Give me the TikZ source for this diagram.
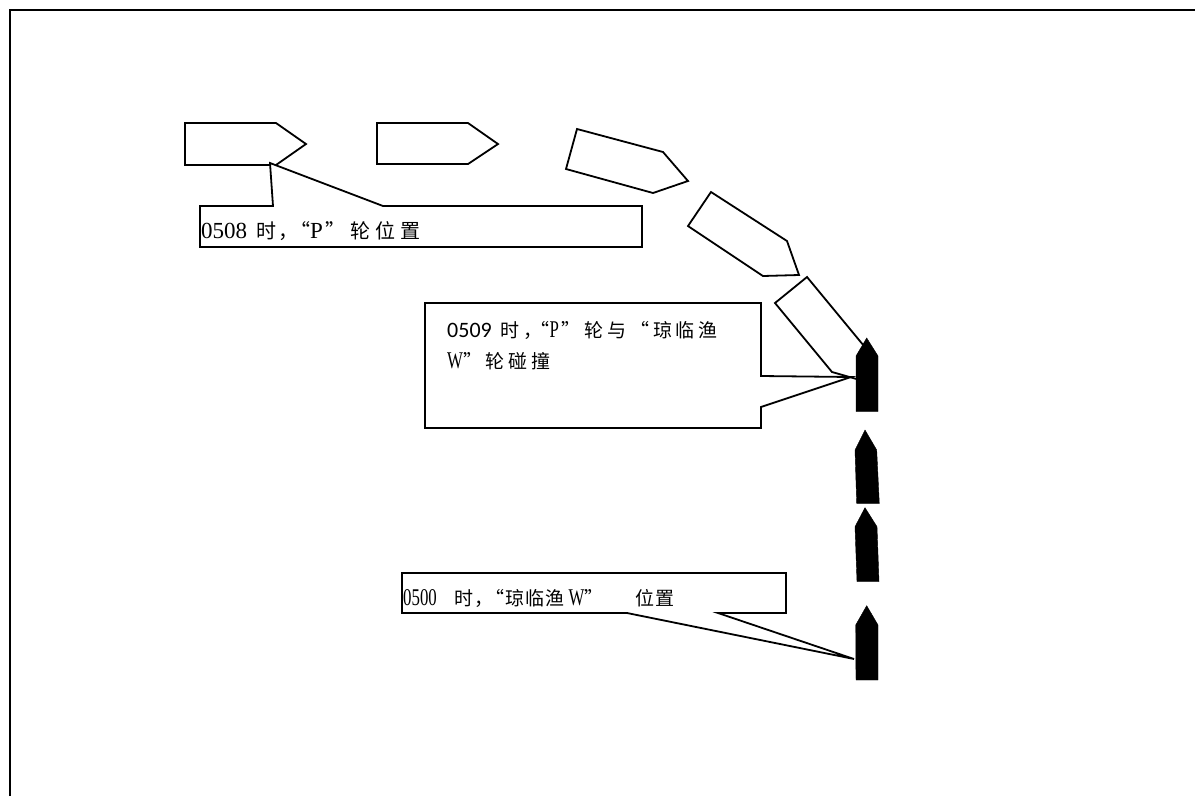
\documentclass[tikz,border=0pt]{standalone}
\usepackage{fontspec}
\setmainfont{Liberation Serif}
\newfontfamily\zhten{Noto Sans CJK SC}[LetterSpace=10]
\newfontfamily\zheight{Noto Sans CJK SC}[LetterSpace=24]
\newfontfamily\zhfive{Noto Sans CJK SC}[LetterSpace=5]
\newfontfamily\zhtwenty{Noto Sans CJK SC}[LetterSpace=20]
\newfontfamily\latnarrow{Liberation Serif}[FakeStretch=0.7]
\newfontfamily\calfont{Carlito}
\tikzset{
  frameline/.style={draw=black, line width=1.9pt},
  whiteship/.style={draw=black, fill=white, line width=1.8pt, line join=miter},
  blackship/.style={fill=black, draw=black, line width=0.4pt},
  callout/.style={draw=black, fill=white, line width=1.8pt, line join=miter},
  lbl/.style={anchor=base west, inner sep=0pt}
}
\begin{document}
\begin{tikzpicture}[x=1pt,y=-1pt]
\useasboundingbox (0,0) rectangle (1195,796);
\draw[frameline] (10,796) -- (10,10) -- (1195,10);

% white ships ("P" track)
\draw[whiteship] (185,123) -- (276,123) -- (306,144) -- (276,165) -- (185,165) -- cycle;
\draw[whiteship] (377,123) -- (468,123) -- (498,144) -- (468,164) -- (377,164) -- cycle;
\draw[whiteship] (577,129) -- (663,152) -- (688,181) -- (653,193) -- (566,169) -- cycle;
\draw[whiteship] (711,192) -- (787,241) -- (799,275) -- (763,276) -- (688,226) -- cycle;
\draw[whiteship] (807,277) -- (864,346) -- (867,382) -- (832,372) -- (775,303) -- cycle;

% callout tips
\coordinate (tipA) at (270,163);
\coordinate (tipB) at (851,377);
\coordinate (tipC) at (854,659);

% callouts
\draw[callout] (200,206) -- (273,206) -- (tipA) -- (383,206) -- (642,206) -- (642,247) -- (200,247) -- cycle;
\draw[callout] (425,303) -- (761,303) -- (761,376) -- (tipB) -- (761,407) -- (761,428) -- (425,428) -- cycle;
\draw[callout] (402,573) -- (786,573) -- (786,613) -- (718,613) -- (tipC) -- (627,613) -- (402,613) -- cycle;

% black ships ("Qiong Lin Yu W" track)
\filldraw[blackship] (866.7,338) -- (878,356) -- (878,411.5) -- (856,411.5) -- (856,356) -- cycle;
\filldraw[blackship] (865,430) -- (876.7,450) -- (879.3,503.3) -- (856.7,503.3) -- (855,450) -- cycle;
\filldraw[blackship] (865,507.7) -- (877,526.7) -- (879,581.7) -- (857,581.7) -- (855,526.7) -- cycle;
\filldraw[blackship] (866.7,605.7) -- (878,625) -- (878,680) -- (856,680) -- (855.7,625) -- cycle;

% labels
\node[lbl] (labA) at (201,238) {{\fontsize{23}{26}\selectfont 0508}\hspace{9pt}{\zhten\fontsize{20}{24}\selectfont 时，}\hspace{-8pt}{\zhten\fontsize{20}{24}\selectfont “}{\fontsize{23}{26}\selectfont P}\hspace{3pt}{\zheight\fontsize{20}{24}\selectfont ”轮位置}};
\node[lbl] (labB1) at (447,337) {{\calfont\fontsize{22}{26}\selectfont 0509}\hspace{9pt}{\zhtwenty\fontsize{19}{23}\selectfont 时，}\hspace{-12pt}{\zhtwenty\fontsize{19}{23}\selectfont “}{\latnarrow\fontsize{24}{26}\selectfont P}\hspace{3pt}{\zhtwenty\fontsize{19}{23}\selectfont ”轮与“琼临渔}};
\node[lbl] (labB2) at (447,368) {{\latnarrow\fontsize{24}{26}\selectfont W}{\zhtwenty\fontsize{19}{23}\selectfont ”轮碰撞}};
\node[lbl] (labC) at (403,605) {{\latnarrow\fontsize{24}{26}\selectfont 0500}\hspace{18pt}{\zhfive\fontsize{19}{23}\selectfont 时，}\hspace{-8pt}{\zhfive\fontsize{19}{23}\selectfont “琼临渔}\hspace{4pt}{\latnarrow\fontsize{24}{26}\selectfont W}{\zhfive\fontsize{19}{23}\selectfont ”}\hspace{32pt}{\zhfive\fontsize{19}{23}\selectfont 位置}};
\end{tikzpicture}
\end{document}
